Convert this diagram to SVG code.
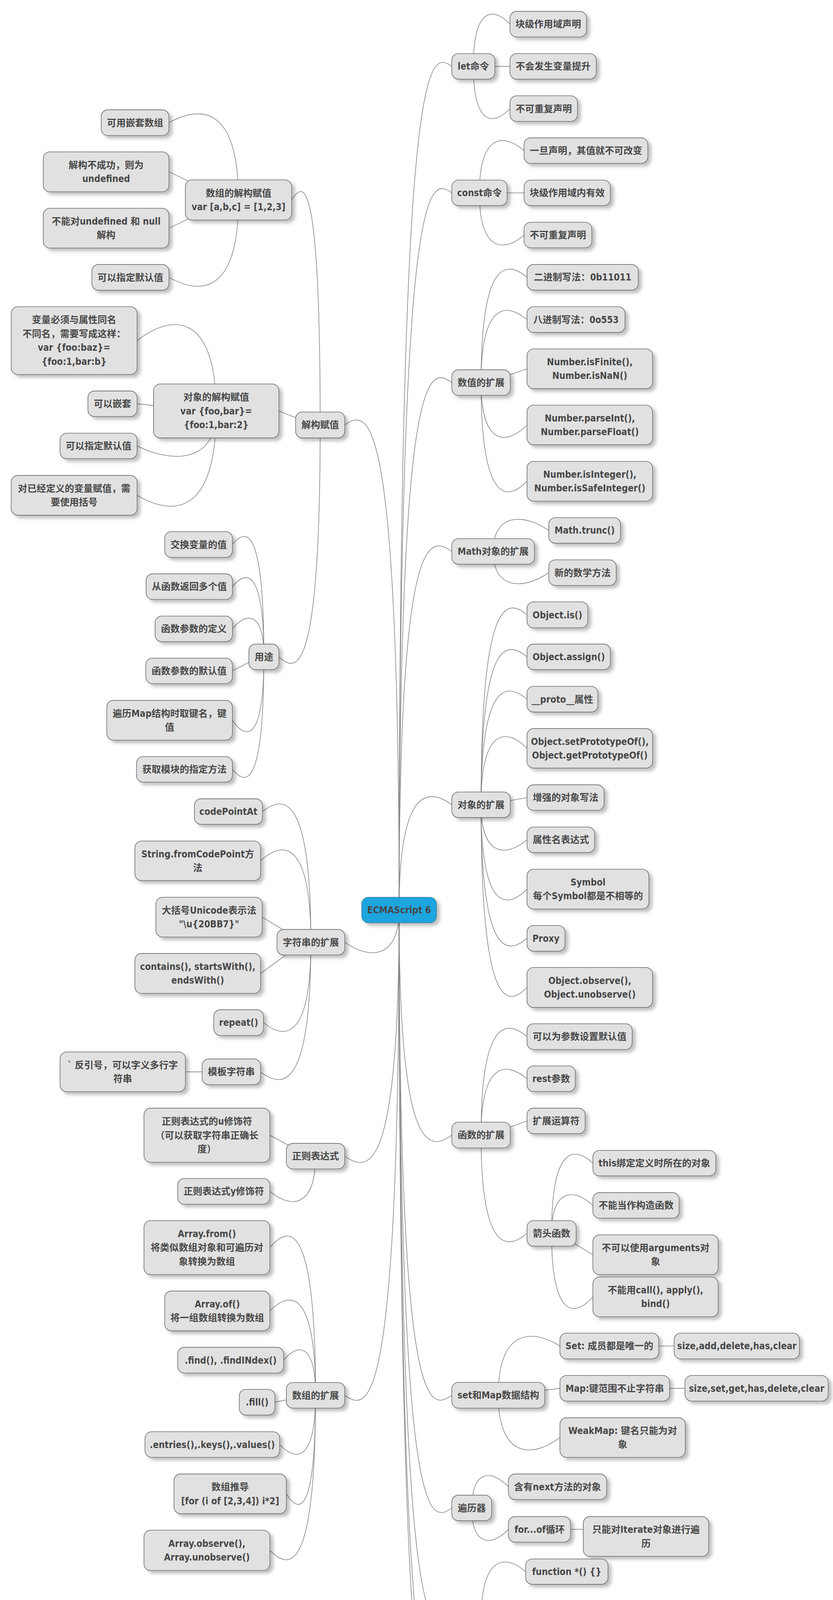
<svg xmlns="http://www.w3.org/2000/svg" width="2132" height="4554" viewBox="0 0 2132 4554">
<defs>
<filter id="sh" x="-10%" y="-20%" width="130%" height="150%">
<feDropShadow dx="8" dy="7" stdDeviation="4" flood-color="#000" flood-opacity="0.25"/>
</filter>
<style>
.n rect{fill:#E1E1E1;stroke:#6E6E6E;stroke-width:1.6;filter:url(#sh)}
.n.root rect{fill:#1FA5DE;stroke:#3C7FA3}
.n text{font-family:"DejaVu Sans Condensed","DejaVu Sans","Noto Sans CJK SC",sans-serif;font-stretch:condensed;font-size:24px;font-weight:bold;fill:#474747;text-anchor:middle}
#connectors path{fill:none;stroke:#868686;stroke-width:1.6}
</style>
</defs>
<rect width="2132" height="4554" fill="#FFFFFF"/>
<g id="connectors">
<path d="M1021.5 2329.7 C1021.5 125.5 1095.7 125.5 1156.4 169.9"/>
<path d="M1021.5 2329.7 C1021.5 449.3 1095.7 449.3 1156.4 493.7"/>
<path d="M1021.5 2329.7 C1021.5 934.9 1095.7 934.9 1156.4 979.3"/>
<path d="M1021.5 2329.7 C1021.5 1367.3 1095.7 1367.3 1156.4 1411.7"/>
<path d="M1021.5 2329.7 C1021.5 2015.8 1095.7 2015.8 1156.4 2060.2"/>
<path d="M1021.5 2329.7 C1021.5 2950.2 1095.7 2950.2 1156.4 2905.8"/>
<path d="M1021.5 2329.7 C1021.5 3616.1 1095.7 3616.1 1156.4 3571.7"/>
<path d="M1021.5 2329.7 C1021.5 3904.8 1095.7 3904.8 1156.4 3860.4"/>
<path d="M1021.5 2329.7 C1021.5 4195.1 1095.7 4195.1 1156.4 4150.7"/>
<path d="M1021.5 2329.7 C1021.5 4430.7 1095.7 4430.7 1156.4 4386.3"/>
<path d="M1021.5 2329.7 C1021.5 4539.5 1095.7 4539.5 1156.4 4495.1"/>
<path d="M1021.5 2329.7 C1021.5 1043.5 945 1043.5 882.4 1087.9"/>
<path d="M1021.5 2329.7 C1021.5 2456.5 945 2456.5 882.4 2412.1"/>
<path d="M1021.5 2329.7 C1021.5 3004.2 945 3004.2 882.4 2959.8"/>
<path d="M1021.5 2329.7 C1021.5 3616.4 945 3616.4 882.4 3572"/>
<path d="M819.5 1087.9 C819.5 458.1 779.3 458.1 746.4 511.8"/>
<path d="M713.8 1052 L803.6 1087.9"/>
<path d="M819.5 1087.9 C819.5 1726 761.4 1726 713.8 1681.6"/>
<path d="M610.5 511.8 C610.5 269.6 512.5 269.6 432.4 314.1"/>
<path d="M432.4 439.9 L583.8 511.8"/>
<path d="M432.4 584.1 L583.8 511.8"/>
<path d="M610.5 511.8 C610.5 754.5 512.5 754.5 432.4 710.1"/>
<path d="M553.4 1052 C553.4 800.6 442 800.6 350.8 872"/>
<path d="M350.8 1033.6 L523 1052"/>
<path d="M553.4 1052 C553.4 1186.1 442 1186.1 350.8 1141.7"/>
<path d="M553.4 1052 C553.4 1321.5 442 1321.5 350.8 1268"/>
<path d="M675.4 1681.6 C675.4 1349.6 631.1 1349.6 594.8 1394"/>
<path d="M675.4 1681.6 C675.4 1457.4 631.1 1457.4 594.8 1501.8"/>
<path d="M675.4 1681.6 C675.4 1565.5 631.1 1565.5 594.8 1609.9"/>
<path d="M594.8 1717.5 L663.3 1681.6"/>
<path d="M675.4 1681.6 C675.4 1897.3 631.1 1897.3 594.8 1843.8"/>
<path d="M675.4 1681.6 C675.4 2014 631.1 2014 594.8 1969.6"/>
<path d="M795.7 2412.1 C795.7 2033.3 727.4 2033.3 671.6 2077.7"/>
<path d="M795.7 2412.1 C795.7 2150.4 724.9 2150.4 666.9 2203.7"/>
<path d="M671 2347.9 L777 2412.1"/>
<path d="M666.9 2492 L776.4 2412.1"/>
<path d="M795.7 2412.1 C795.7 2662.3 729 2662.3 674.4 2617.9"/>
<path d="M795.7 2412.1 C795.7 2788.3 724.9 2788.3 666.9 2743.9"/>
<path d="M474.5 2743.9 L580 2743.9"/>
<path d="M690.7 2906.2 L790.1 2959.8"/>
<path d="M807.6 2959.8 C807.6 3094.1 743.3 3094.1 690.7 3049.7"/>
<path d="M807.6 3572 C807.6 3131.3 743.3 3131.3 690.7 3193.9"/>
<path d="M807.6 3572 C807.6 3302.5 743.3 3302.5 690.7 3356"/>
<path d="M807.6 3572 C807.6 3437.6 762.7 3437.6 726 3482"/>
<path d="M703.6 3589.6 L792 3572"/>
<path d="M807.6 3572 C807.6 3742.4 757.1 3742.4 715.8 3698"/>
<path d="M807.6 3572 C807.6 3877.8 766.5 3877.8 732.8 3824.3"/>
<path d="M807.6 3572 C807.6 4022.7 743.3 4022.7 690.7 3968.9"/>
<path d="M1211.5 169.9 C1211.5 17.4 1263.1 17.4 1305.3 61.8"/>
<path d="M1305.3 169.9 L1227 169.9"/>
<path d="M1211.5 169.9 C1211.5 322.4 1263.1 322.4 1305.3 278"/>
<path d="M1227.1 493.7 C1227.1 341.2 1289.9 341.2 1341.3 385.6"/>
<path d="M1341.3 493.7 L1244 493.7"/>
<path d="M1227.1 493.7 C1227.1 646.2 1289.9 646.2 1341.3 601.8"/>
<path d="M1231.2 979.3 C1231.2 665.5 1295.9 665.5 1348.8 709.9"/>
<path d="M1231.2 979.3 C1231.2 773.8 1295.9 773.8 1348.8 818.2"/>
<path d="M1348.8 944.2 L1248.8 979.3"/>
<path d="M1231.2 979.3 C1231.2 1141.3 1295.9 1141.3 1348.8 1088"/>
<path d="M1231.2 979.3 C1231.2 1285.6 1295.9 1285.6 1348.8 1232.1"/>
<path d="M1262.1 1411.7 C1262.1 1313.5 1340.4 1313.5 1404.5 1357.9"/>
<path d="M1262.1 1411.7 C1262.1 1510.4 1340.4 1510.4 1404.5 1466"/>
<path d="M1231.2 2060.2 C1231.2 1529.6 1295.9 1529.6 1348.8 1574"/>
<path d="M1231.2 2060.2 C1231.2 1637.3 1295.9 1637.3 1348.8 1681.7"/>
<path d="M1231.2 2060.2 C1231.2 1745.6 1295.9 1745.6 1348.8 1790"/>
<path d="M1231.2 2060.2 C1231.2 1862.5 1295.9 1862.5 1348.8 1915.8"/>
<path d="M1348.8 2041.8 L1248.8 2060.2"/>
<path d="M1231.2 2060.2 C1231.2 2194.3 1295.9 2194.3 1348.8 2149.9"/>
<path d="M1231.2 2060.2 C1231.2 2329.6 1295.9 2329.6 1348.8 2276.1"/>
<path d="M1231.2 2060.2 C1231.2 2446.6 1295.9 2446.6 1348.8 2402.2"/>
<path d="M1231.2 2060.2 C1231.2 2581.6 1295.9 2581.6 1348.8 2528"/>
<path d="M1231.2 2905.8 C1231.2 2609.3 1295.9 2609.3 1348.8 2653.7"/>
<path d="M1231.2 2905.8 C1231.2 2717.2 1295.9 2717.2 1348.8 2761.6"/>
<path d="M1348.8 2869.7 L1248.8 2905.8"/>
<path d="M1231.2 2905.8 C1231.2 3202 1295.9 3202 1348.8 3157.6"/>
<path d="M1411.7 3157.6 C1411.7 2933.3 1469.8 2933.3 1517.4 2977.7"/>
<path d="M1411.7 3157.6 C1411.7 3041.4 1469.8 3041.4 1517.4 3085.8"/>
<path d="M1517.4 3212.1 L1427.6 3157.6"/>
<path d="M1411.7 3157.6 C1411.7 3373.7 1469.8 3373.7 1517.4 3320.2"/>
<path d="M1275.4 3571.8 C1275.4 3401.3 1362.1 3401.3 1433.1 3445.7"/>
<path d="M1433.1 3554.1 L1299 3571.8"/>
<path d="M1275.4 3571.8 C1275.4 3733.4 1362.1 3733.4 1433.1 3680.1"/>
<path d="M1725.4 3445.7 L1686 3445.7"/>
<path d="M1753.3 3554.1 L1713.8 3554.1"/>
<path d="M1207.4 3860.4 C1207.4 3761.7 1259 3761.7 1301.2 3806.1"/>
<path d="M1207.4 3860.4 C1207.4 3959.5 1259 3959.5 1301.2 3915.1"/>
<path d="M1492.9 3915.1 L1460.3 3915.1"/>
<path d="M1231.2 4150.7 C1231.2 3979 1294 3979 1345.4 4023.5"/>
<path d="M1345.4 4132.3 L1248.3 4150.7"/>
<path d="M1231.2 4150.7 C1231.2 4312.5 1294 4312.5 1345.4 4259"/>
</g>

<g id="n-root" class="n root"><rect x="925.9" y="2297" width="191.1" height="65.4" rx="17"/><text x="1021.5" y="2338.2">ECMAScript 6</text></g>

<g id="n-jiegou" class="n"><rect x="756.6" y="1054.7" width="125.8" height="66.4" rx="17"/><text x="819.5" y="1096.4">解构赋值</text></g>
<g id="n-arr-destr" class="n"><rect x="474.5" y="460.5" width="271.9" height="102.7" rx="17"/><text><tspan x="610.5" y="502.7">数组的解构赋值</tspan><tspan x="610.5" y="538.1">var [a,b,c] = [1,2,3]</tspan></text></g>
<g id="n-a1" class="n"><rect x="259" y="281.1" width="173.4" height="65.9" rx="17"/><text x="345.7" y="322.5">可用嵌套数组</text></g>
<g id="n-a2" class="n"><rect x="110.8" y="388.7" width="321.6" height="102.3" rx="17"/><text><tspan x="271.6" y="430.7">解构不成功，则为</tspan><tspan x="271.6" y="466.1">undefined</tspan></text></g>
<g id="n-a3" class="n"><rect x="110.8" y="533.2" width="321.6" height="101.8" rx="17"/><text><tspan x="271.6" y="574.9">不能对undefined 和 null</tspan><tspan x="271.6" y="610.3">解构</tspan></text></g>
<g id="n-a4" class="n"><rect x="235.2" y="677.1" width="197.2" height="66" rx="17"/><text x="333.8" y="718.6">可以指定默认值</text></g>
<g id="n-obj-destr" class="n"><rect x="392.9" y="983" width="320.9" height="138.1" rx="17"/><text><tspan x="553.4" y="1025.2">对象的解构赋值</tspan><tspan x="553.4" y="1060.6">var {foo,bar}=</tspan><tspan x="553.4" y="1096">{foo:1,bar:2}</tspan></text></g>
<g id="n-b1" class="n"><rect x="28.6" y="785.2" width="322.2" height="173.5" rx="17"/><text><tspan x="189.7" y="827.4">变量必须与属性同名</tspan><tspan x="189.7" y="862.8">不同名，需要写成这样：</tspan><tspan x="189.7" y="898.2">var {foo:baz}=</tspan><tspan x="189.7" y="933.6">{foo:1,bar:b}</tspan></text></g>
<g id="n-b2" class="n"><rect x="225" y="1000.9" width="125.8" height="65.4" rx="17"/><text x="287.9" y="1042.1">可以嵌套</text></g>
<g id="n-b3" class="n"><rect x="153.6" y="1109" width="197.2" height="65.4" rx="17"/><text x="252.2" y="1150.2">可以指定默认值</text></g>
<g id="n-b4" class="n"><rect x="28.6" y="1217.1" width="322.2" height="101.8" rx="17"/><text><tspan x="189.7" y="1258.8">对已经定义的变量赋值，需</tspan><tspan x="189.7" y="1294.2">要使用括号</tspan></text></g>
<g id="n-yongtu" class="n"><rect x="637" y="1648.9" width="76.8" height="65.5" rx="17"/><text x="675.4" y="1690.2">用途</text></g>
<g id="n-u1" class="n"><rect x="421.5" y="1361" width="173.3" height="66" rx="17"/><text x="508.2" y="1402.5">交换变量的值</text></g>
<g id="n-u2" class="n"><rect x="373.9" y="1469.1" width="220.9" height="65.4" rx="17"/><text x="484.4" y="1510.3">从函数返回多个值</text></g>
<g id="n-u3" class="n"><rect x="397" y="1577.2" width="197.8" height="65.4" rx="17"/><text x="495.9" y="1618.4">函数参数的定义</text></g>
<g id="n-u4" class="n"><rect x="373.2" y="1684.8" width="221.6" height="65.4" rx="17"/><text x="484" y="1726">函数参数的默认值</text></g>
<g id="n-u5" class="n"><rect x="273.3" y="1792.9" width="321.5" height="101.8" rx="17"/><text><tspan x="434.1" y="1834.6">遍历Map结构时取键名，键</tspan><tspan x="434.1" y="1870">值</tspan></text></g>
<g id="n-u6" class="n"><rect x="349.4" y="1936.8" width="245.4" height="65.5" rx="17"/><text x="472.1" y="1978.1">获取模块的指定方法</text></g>

<g id="n-str" class="n"><rect x="709" y="2379.4" width="173.4" height="65.4" rx="17"/><text x="795.7" y="2420.6">字符串的扩展</text></g>
<g id="n-s1" class="n"><rect x="497.6" y="2044.9" width="174" height="65.5" rx="17"/><text x="584.6" y="2086.2">codePointAt</text></g>
<g id="n-s2" class="n"><rect x="345.3" y="2153" width="321.6" height="101.3" rx="17"/><text><tspan x="506.1" y="2194.5">String.fromCodePoint方</tspan><tspan x="506.1" y="2229.9">法</tspan></text></g>
<g id="n-s3" class="n"><rect x="399" y="2297" width="272" height="101.7" rx="17"/><text><tspan x="535" y="2338.7">大括号Unicode表示法</tspan><tspan x="535" y="2374.1">"\u{20BB7}"</tspan></text></g>
<g id="n-s4" class="n"><rect x="345.3" y="2440.9" width="321.6" height="102.3" rx="17"/><text><tspan x="506.1" y="2482.9">contains(), startsWith(),</tspan><tspan x="506.1" y="2518.3">endsWith()</tspan></text></g>
<g id="n-s5" class="n"><rect x="547.2" y="2584.9" width="127.2" height="65.9" rx="17"/><text x="610.8" y="2626.4">repeat()</text></g>
<g id="n-s6" class="n"><rect x="517.3" y="2710.9" width="149.6" height="65.9" rx="17"/><text x="592.1" y="2752.4">模板字符串</text></g>
<g id="n-s7" class="n"><rect x="153.6" y="2693" width="320.9" height="101.8" rx="17"/><text><tspan x="314.1" y="2734.7">` 反引号，可以字义多行字</tspan><tspan x="314.1" y="2770.1">符串</tspan></text></g>

<g id="n-re" class="n"><rect x="732.8" y="2927.1" width="149.6" height="65.4" rx="17"/><text x="807.6" y="2968.3">正则表达式</text></g>
<g id="n-r1" class="n"><rect x="368.5" y="2836.9" width="322.2" height="138.6" rx="17"/><text><tspan x="529.6" y="2879.3">正则表达式的u修饰符</tspan><tspan x="529.6" y="2914.7">（可以获取字符串正确长</tspan><tspan x="529.6" y="2950.1">度）</tspan></text></g>
<g id="n-r2" class="n"><rect x="454.8" y="3016.7" width="235.9" height="66" rx="17"/><text x="572.8" y="3058.2">正则表达式y修饰符</text></g>

<g id="n-arr" class="n"><rect x="732.8" y="3539.2" width="149.6" height="65.5" rx="17"/><text x="807.6" y="3580.5">数组的扩展</text></g>
<g id="n-y1" class="n"><rect x="368.5" y="3124.8" width="322.2" height="138.2" rx="17"/><text><tspan x="529.6" y="3167">Array.from()</tspan><tspan x="529.6" y="3202.4">将类似数组对象和可遍历对</tspan><tspan x="529.6" y="3237.8">象转换为数组</tspan></text></g>
<g id="n-y2" class="n"><rect x="421.5" y="3305.1" width="269.2" height="101.8" rx="17"/><text><tspan x="556.1" y="3346.8">Array.of()</tspan><tspan x="556.1" y="3382.2">将一组数组转换为数组</tspan></text></g>
<g id="n-y3" class="n"><rect x="454.8" y="3449.1" width="271.2" height="65.9" rx="17"/><text x="590.4" y="3490.6">.find(), .findINdex()</text></g>
<g id="n-y4" class="n"><rect x="612.5" y="3556.7" width="91.1" height="65.9" rx="17"/><text x="658.1" y="3598.2">.fill()</text></g>
<g id="n-y5" class="n"><rect x="371.2" y="3665.3" width="344.6" height="65.4" rx="17"/><text x="543.5" y="3706.5">.entries(),.keys(),.values()</text></g>
<g id="n-y6" class="n"><rect x="445.3" y="3773.4" width="287.5" height="101.7" rx="17"/><text><tspan x="589.1" y="3815.1">数组推导</tspan><tspan x="589.1" y="3850.5">[for (i of [2,3,4]) i*2]</tspan></text></g>
<g id="n-y7" class="n"><rect x="368.5" y="3917.3" width="322.2" height="103.2" rx="17"/><text><tspan x="529.6" y="3959.7">Array.observe(),</tspan><tspan x="529.6" y="3995.1">Array.unobserve()</tspan></text></g>

<g id="n-let" class="n"><rect x="1156.4" y="137.2" width="110.1" height="65.4" rx="17"/><text x="1211.5" y="178.4">let命令</text></g>
<g id="n-l1" class="n"><rect x="1305.3" y="29.1" width="195.8" height="65.4" rx="17"/><text x="1403.2" y="70.3">块级作用域声明</text></g>
<g id="n-l2" class="n"><rect x="1305.3" y="137.2" width="220.9" height="65.4" rx="17"/><text x="1415.8" y="178.4">不会发生变量提升</text></g>
<g id="n-l3" class="n"><rect x="1305.3" y="245.3" width="172.7" height="65.4" rx="17"/><text x="1391.7" y="286.5">不可重复声明</text></g>
<g id="n-const" class="n"><rect x="1156.4" y="461" width="141.4" height="65.4" rx="17"/><text x="1227.1" y="502.2">const命令</text></g>
<g id="n-c1" class="n"><rect x="1341.3" y="352.9" width="316.8" height="65.4" rx="17"/><text x="1499.7" y="394.1">一旦声明，其值就不可改变</text></g>
<g id="n-c2" class="n"><rect x="1341.3" y="461" width="221" height="65.4" rx="17"/><text x="1451.8" y="502.2">块级作用域内有效</text></g>
<g id="n-c3" class="n"><rect x="1341.3" y="569" width="173.4" height="65.5" rx="17"/><text x="1428" y="610.3">不可重复声明</text></g>

<g id="n-num" class="n"><rect x="1156.4" y="946.6" width="149.6" height="65.4" rx="17"/><text x="1231.2" y="987.8">数值的扩展</text></g>
<g id="n-n1" class="n"><rect x="1348.8" y="677.1" width="284.8" height="65.5" rx="17"/><text x="1491.2" y="718.4">二进制写法：0b11011</text></g>
<g id="n-n2" class="n"><rect x="1348.8" y="785.2" width="250.8" height="65.9" rx="17"/><text x="1474.2" y="826.7">八进制写法：0o553</text></g>
<g id="n-n3" class="n"><rect x="1348.8" y="893.3" width="321.5" height="101.8" rx="17"/><text><tspan x="1509.6" y="935">Number.isFinite(),</tspan><tspan x="1509.6" y="970.4">Number.isNaN()</tspan></text></g>
<g id="n-n4" class="n"><rect x="1348.8" y="1037.3" width="321.5" height="101.3" rx="17"/><text><tspan x="1509.6" y="1078.8">Number.parseInt(),</tspan><tspan x="1509.6" y="1114.2">Number.parseFloat()</tspan></text></g>
<g id="n-n5" class="n"><rect x="1348.8" y="1181.2" width="321.5" height="101.8" rx="17"/><text><tspan x="1509.6" y="1222.9">Number.isInteger(),</tspan><tspan x="1509.6" y="1258.3">Number.isSafeInteger()</tspan></text></g>

<g id="n-math" class="n"><rect x="1156.4" y="1379" width="211.4" height="65.4" rx="17"/><text x="1262.1" y="1420.2">Math对象的扩展</text></g>
<g id="n-m1" class="n"><rect x="1404.5" y="1325.2" width="183.6" height="65.4" rx="17"/><text x="1496.3" y="1366.4">Math.trunc()</text></g>
<g id="n-m2" class="n"><rect x="1404.5" y="1433.3" width="172.7" height="65.4" rx="17"/><text x="1490.9" y="1474.5">新的数学方法</text></g>

<g id="n-obj" class="n"><rect x="1156.4" y="2027.5" width="149.6" height="65.4" rx="17"/><text x="1231.2" y="2068.7">对象的扩展</text></g>
<g id="n-o1" class="n"><rect x="1348.8" y="1540.8" width="155.7" height="66.4" rx="17"/><text x="1426.7" y="1582.5">Object.is()</text></g>
<g id="n-o2" class="n"><rect x="1348.8" y="1648.9" width="213.5" height="65.5" rx="17"/><text x="1455.6" y="1690.2">Object.assign()</text></g>
<g id="n-o3" class="n"><rect x="1348.8" y="1757" width="181.5" height="65.9" rx="17"/><text x="1439.6" y="1798.5">__proto__属性</text></g>
<g id="n-o4" class="n"><rect x="1348.8" y="1865.1" width="321.5" height="101.3" rx="17"/><text><tspan x="1509.6" y="1906.6">Object.setPrototypeOf(),</tspan><tspan x="1509.6" y="1942">Object.getPrototypeOf()</tspan></text></g>
<g id="n-o5" class="n"><rect x="1348.8" y="2009.1" width="197.2" height="65.4" rx="17"/><text x="1447.4" y="2050.3">增强的对象写法</text></g>
<g id="n-o6" class="n"><rect x="1348.8" y="2117.2" width="173.3" height="65.4" rx="17"/><text x="1435.5" y="2158.4">属性名表达式</text></g>
<g id="n-o7" class="n"><rect x="1348.8" y="2225.2" width="312" height="101.8" rx="17"/><text><tspan x="1504.8" y="2266.9">Symbol</tspan><tspan x="1504.8" y="2302.3">每个Symbol都是不相等的</tspan></text></g>
<g id="n-o8" class="n"><rect x="1348.8" y="2369.2" width="97.2" height="65.9" rx="17"/><text x="1397.4" y="2410.7">Proxy</text></g>
<g id="n-o9" class="n"><rect x="1348.8" y="2476.8" width="321.5" height="102.3" rx="17"/><text><tspan x="1509.6" y="2518.8">Object.observe(),</tspan><tspan x="1509.6" y="2554.2">Object.unobserve()</tspan></text></g>

<g id="n-fn" class="n"><rect x="1156.4" y="2872.8" width="149.6" height="65.9" rx="17"/><text x="1231.2" y="2914.3">函数的扩展</text></g>
<g id="n-f1" class="n"><rect x="1348.8" y="2620.7" width="269.2" height="66" rx="17"/><text x="1483.4" y="2662.2">可以为参数设置默认值</text></g>
<g id="n-f2" class="n"><rect x="1348.8" y="2728.8" width="123.7" height="65.5" rx="17"/><text x="1410.7" y="2770.1">rest参数</text></g>
<g id="n-f3" class="n"><rect x="1348.8" y="2836.9" width="148.9" height="65.5" rx="17"/><text x="1423.3" y="2878.2">扩展运算符</text></g>
<g id="n-f4" class="n"><rect x="1348.8" y="3124.8" width="125.8" height="65.5" rx="17"/><text x="1411.7" y="3166.1">箭头函数</text></g>
<g id="n-f5" class="n"><rect x="1517.4" y="2945" width="314.7" height="65.4" rx="17"/><text x="1674.8" y="2986.2">this绑定定义时所在的对象</text></g>
<g id="n-f6" class="n"><rect x="1517.4" y="3053.1" width="220.9" height="65.4" rx="17"/><text x="1627.9" y="3094.3">不能当作构造函数</text></g>
<g id="n-f7" class="n"><rect x="1517.4" y="3161.2" width="320.8" height="101.8" rx="17"/><text><tspan x="1677.8" y="3202.9">不可以使用arguments对</tspan><tspan x="1677.8" y="3238.3">象</tspan></text></g>
<g id="n-f8" class="n"><rect x="1517.4" y="3269.3" width="320.8" height="101.7" rx="17"/><text><tspan x="1677.8" y="3311">不能用call(), apply(),</tspan><tspan x="1677.8" y="3346.4">bind()</tspan></text></g>

<g id="n-setmap" class="n"><rect x="1156.4" y="3538.8" width="237.9" height="65.9" rx="17"/><text x="1275.4" y="3580.3">set和Map数据结构</text></g>
<g id="n-t1" class="n"><rect x="1433.1" y="3412.7" width="252.9" height="66" rx="17"/><text x="1559.6" y="3454.2">Set: 成员都是唯一的</text></g>
<g id="n-t1a" class="n"><rect x="1725.4" y="3412.7" width="320.9" height="66" rx="17"/><text x="1885.9" y="3454.2">size,add,delete,has,clear</text></g>
<g id="n-t2" class="n"><rect x="1433.1" y="3521.3" width="280.7" height="65.5" rx="17"/><text x="1573.5" y="3562.6">Map:键范围不止字符串</text></g>
<g id="n-t2a" class="n"><rect x="1753.3" y="3521.3" width="366.4" height="65.5" rx="17"/><text x="1936.5" y="3562.6">size,set,get,has,delete,clear</text></g>
<g id="n-t3" class="n"><rect x="1433.1" y="3629.4" width="320.9" height="101.3" rx="17"/><text><tspan x="1593.6" y="3670.9">WeakMap: 键名只能为对</tspan><tspan x="1593.6" y="3706.3">象</tspan></text></g>

<g id="n-iter" class="n"><rect x="1156.4" y="3827.6" width="102" height="65.5" rx="17"/><text x="1207.4" y="3868.9">遍历器</text></g>
<g id="n-i1" class="n"><rect x="1301.2" y="3773.4" width="251.5" height="65.4" rx="17"/><text x="1427" y="3814.6">含有next方法的对象</text></g>
<g id="n-i2" class="n"><rect x="1301.2" y="3882.4" width="159.1" height="65.4" rx="17"/><text x="1380.8" y="3923.6">for...of循环</text></g>
<g id="n-i3" class="n"><rect x="1492.9" y="3882.4" width="320.9" height="101.8" rx="17"/><text><tspan x="1653.4" y="3924.1">只能对Iterate对象进行遍</tspan><tspan x="1653.4" y="3959.5">历</tspan></text></g>

<g id="n-gen" class="n"><rect x="1156.4" y="4118" width="149.6" height="65.4" rx="17"/><text x="1231.2" y="4159.2">Generator</text></g>
<g id="n-g1" class="n"><rect x="1345.4" y="3991" width="210.7" height="64.9" rx="17"/><text x="1450.8" y="4032">function *() {}</text></g>
<g id="n-g2" class="n"><rect x="1345.4" y="4099.5" width="88.4" height="65.5" rx="17"/><text x="1389.6" y="4140.8">yield</text></g>
<g id="n-g3" class="n"><rect x="1345.4" y="4208.1" width="320.9" height="101.8" rx="17"/><text><tspan x="1505.9" y="4249.8">.next()&#160;&#160;&#160; =&#160;&#160;&#160; { value:</tspan><tspan x="1505.9" y="4285.2">xxx, done: false}</tspan></text></g>

<g id="n-promise" class="n"><rect x="1156.4" y="4353.5" width="173.4" height="65.5" rx="17"/><text x="1243.1" y="4394.8">Promise对象</text></g>
<g id="n-class" class="n"><rect x="1156.4" y="4462.1" width="205.3" height="65.9" rx="17"/><text x="1259.1" y="4503.6">Class和Module</text></g>
</svg>
